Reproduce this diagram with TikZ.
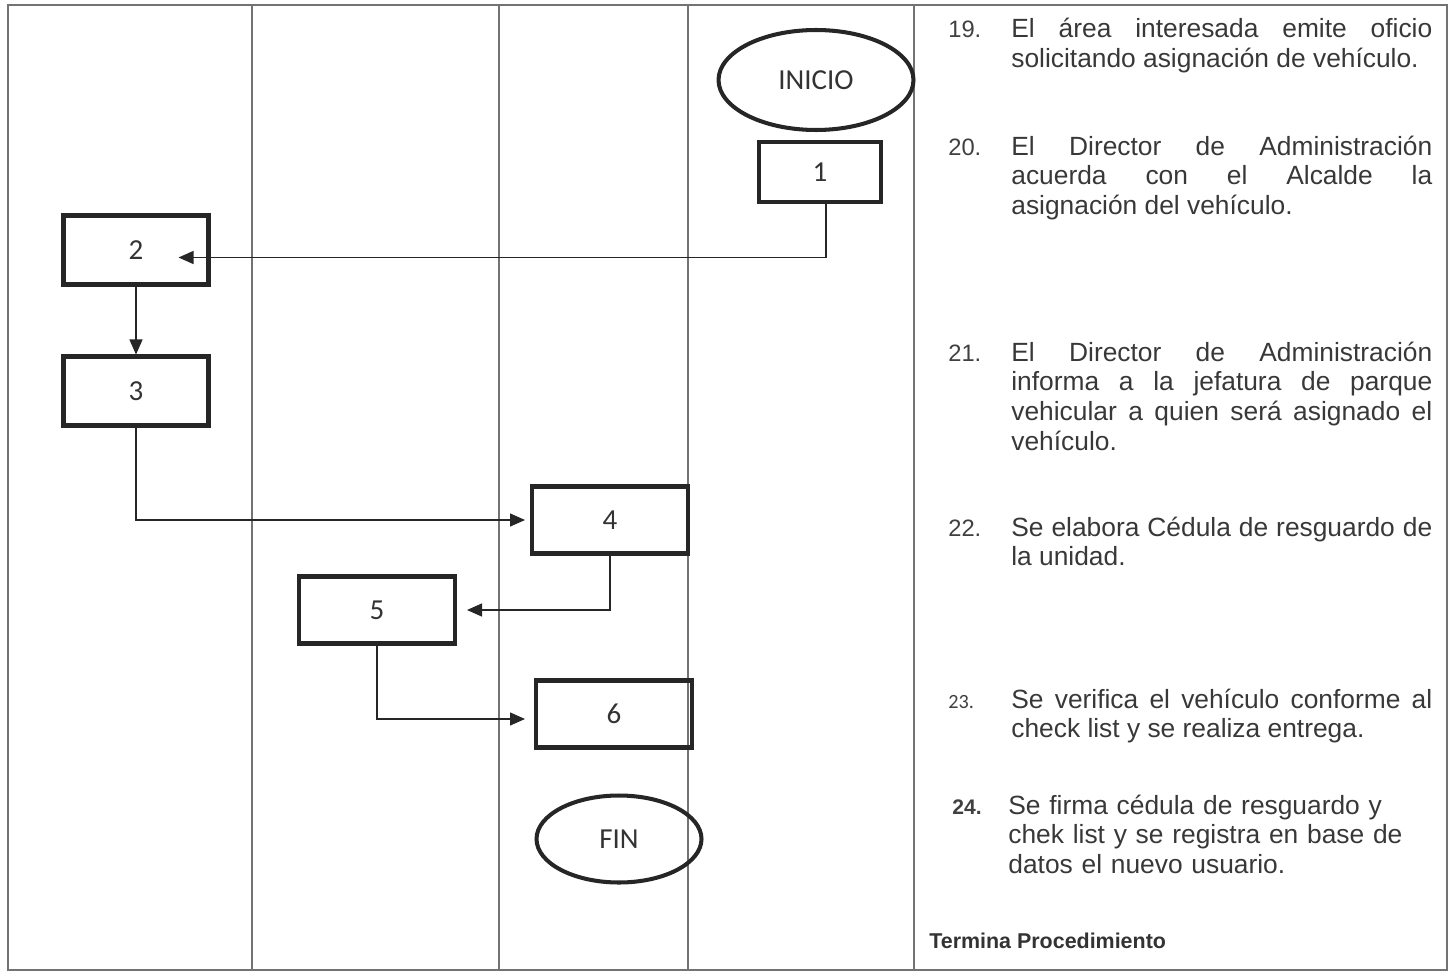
\documentclass[tikz,border=0pt]{standalone}
\usepackage{fontspec}
\setmainfont{Liberation Sans}
\newfontfamily\boxfont{Carlito}
\usetikzlibrary{positioning,arrows.meta,shapes.geometric}

\begin{document}
\begin{tikzpicture}[x=0.02cm, y=-0.02cm,
  frame/.style={draw=black!55, line width=0.9pt},
  stepbox/.style={draw=black!85, line width=2.3pt, minimum width=3.12cm, minimum height=1.34cm, font=\boxfont\fontsize{16.5}{19}\selectfont, text=black!80},
  term/.style={ellipse, draw=black!85, line width=2.3pt, font=\boxfont\fontsize{16.5}{19}\selectfont, text=black!80},
  flow/.style={draw=black!85, line width=0.8pt, -{Triangle[length=0.3cm, width=0.26cm]}},
  desc/.style={anchor=base west, text width=8.42cm, align=justify, inner sep=0pt, font=\fontsize{15}{17}\selectfont, text=black!78},
  num/.style={anchor=base west, inner sep=0pt, font=\fontsize{13.5}{16}\selectfont, text=black!75}]
\useasboundingbox (0,0) rectangle (1452,973);
% lanes
\draw[frame] (8,5) rectangle (1447,970);
\foreach \x in {252,499,688,914}
  \draw[frame] (\x,5) -- (\x,970);
% flow
\node[term, minimum width=3.9cm, minimum height=2cm] (inicio) at (816,80) {INICIO};
\node[stepbox, minimum width=2.44cm, minimum height=1.2cm] (b1) at (820,172) {1};
\node[stepbox, minimum width=2.9cm, minimum height=1.38cm] (b2) at (136,250) {2};
\node[stepbox, minimum width=2.9cm, minimum height=1.38cm] (b3) at (136,391) {3};
\node[stepbox] (b4) at (610,520) {4};
\node[stepbox] (b5) at (377,610) {5};
\node[stepbox] (b6) at (614,714) {6};
\node[term, minimum width=3.3cm, minimum height=1.74cm] (fin) at (619,839) {FIN};
\draw[flow] ([xshift=0.12cm]b1.south) |- ([xshift=-0.64cm, yshift=-0.15cm]b2.east);
\draw[flow] (b2) -- (b3);
\draw[flow] (b3.south) |- ([xshift=-0.1cm]b4.west);
\draw[flow] (b4.south) |- ([xshift=0.2cm]b5.east);
\draw[flow] (b5.south) |- ([xshift=-0.18cm, yshift=-0.1cm]b6.west);
% description
\node[num] (n19) at (948,38) {19.};
\node[desc] (t19) at (1011,38) {El área interesada emite oficio\linebreak solicitando asignación de vehículo.};
\node[num] (n20) at (948,155) {20.};
\node[desc] (t20) at (1011,155) {El Director de Administración\linebreak acuerda con el Alcalde la\linebreak asignación del vehículo.};
\node[num] (n21) at (948,361) {21.};
\node[desc] (t21) at (1011,361) {El Director de Administración\linebreak informa a la jefatura de parque\linebreak vehicular a quien será asignado el\linebreak vehículo.};
\node[num] (n22) at (948,536) {22.};
\node[desc] (t22) at (1011,536) {Se elabora Cédula de resguardo de\linebreak la unidad.};
\node[num, font=\boxfont\fontsize{11.5}{14}\selectfont] (n23) at (948,708) {23.};
\node[desc] (t23) at (1011,708) {Se verifica el vehículo conforme al\linebreak check list y se realiza entrega.};
\node[num, font=\bfseries\fontsize{12}{14}\selectfont] (n24) at (952,814) {24.};
\node[desc, align=left] (t24) at (1008,814) {Se firma cédula de resguardo y\\ chek list y se registra en base de\\ datos el nuevo usuario.};
\node[anchor=base west, inner sep=0pt, font=\bfseries\fontsize{12.2}{15}\selectfont, text=black!80] (fin-txt) at (929,948) {Termina Procedimiento};
\end{tikzpicture}
\end{document}
